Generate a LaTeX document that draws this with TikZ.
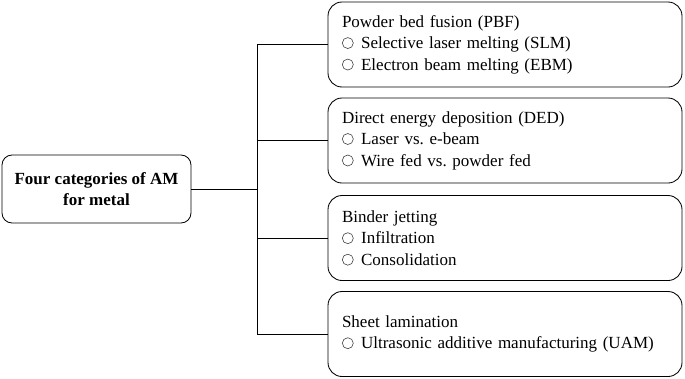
\documentclass[tikz,border=0pt]{standalone}
\usepackage{fontspec}
\setmainfont{Liberation Serif}
\usetikzlibrary{positioning}
\frenchspacing
% hollow bullet in front of each sub-item
\newcommand{\ring}{\tikz[baseline=0pt]\draw[line width=0.6pt,black!75] (6pt,5.6pt) circle[radius=5.5pt];\hspace{7.5pt}}

\begin{document}
\begin{tikzpicture}[x=1pt,y=-1pt,line width=0.85pt,
  rootbox/.style={draw,rounded corners=10pt,minimum width=189pt,minimum height=68pt,align=center,font=\fontsize{17}{21.5}\selectfont\bfseries},
  catbox/.style={draw,rounded corners=14pt,minimum width=354pt,minimum height=85pt,inner sep=0pt,text width=326pt,align=left,font=\fontsize{17}{21.5}\selectfont}]
\useasboundingbox (0,0) rectangle (685,378);
\node[rootbox] (root) at (96.5,189) {Four categories of AM\\for metal};
\node[catbox] (pbf) at (505,44.5) {Powder bed fusion (PBF)\\\ring Selective laser melting (SLM)\\\ring Electron beam melting (EBM)};
\node[catbox] (ded) at (505,140.5) {Direct energy deposition (DED)\\\ring Laser vs. e-beam\\\ring Wire fed vs. powder fed};
\node[catbox] (bj) at (505,238) {Binder jetting\\\ring Infiltration\\\ring Consolidation};
\node[catbox] (sl) at (505,334) {Sheet lamination\\\ring Ultrasonic additive manufacturing (UAM)};
% spine
\coordinate (sp) at (257,0);
\draw (root.east) -- (root.east -| sp);
\draw (pbf.west -| sp) -- (sl.west -| sp);
\draw (pbf.west -| sp) -- (pbf.west);
\draw (ded.west -| sp) -- (ded.west);
\draw (bj.west -| sp) -- (bj.west);
\draw (sl.west -| sp) -- (sl.west);
\end{tikzpicture}
\end{document}
